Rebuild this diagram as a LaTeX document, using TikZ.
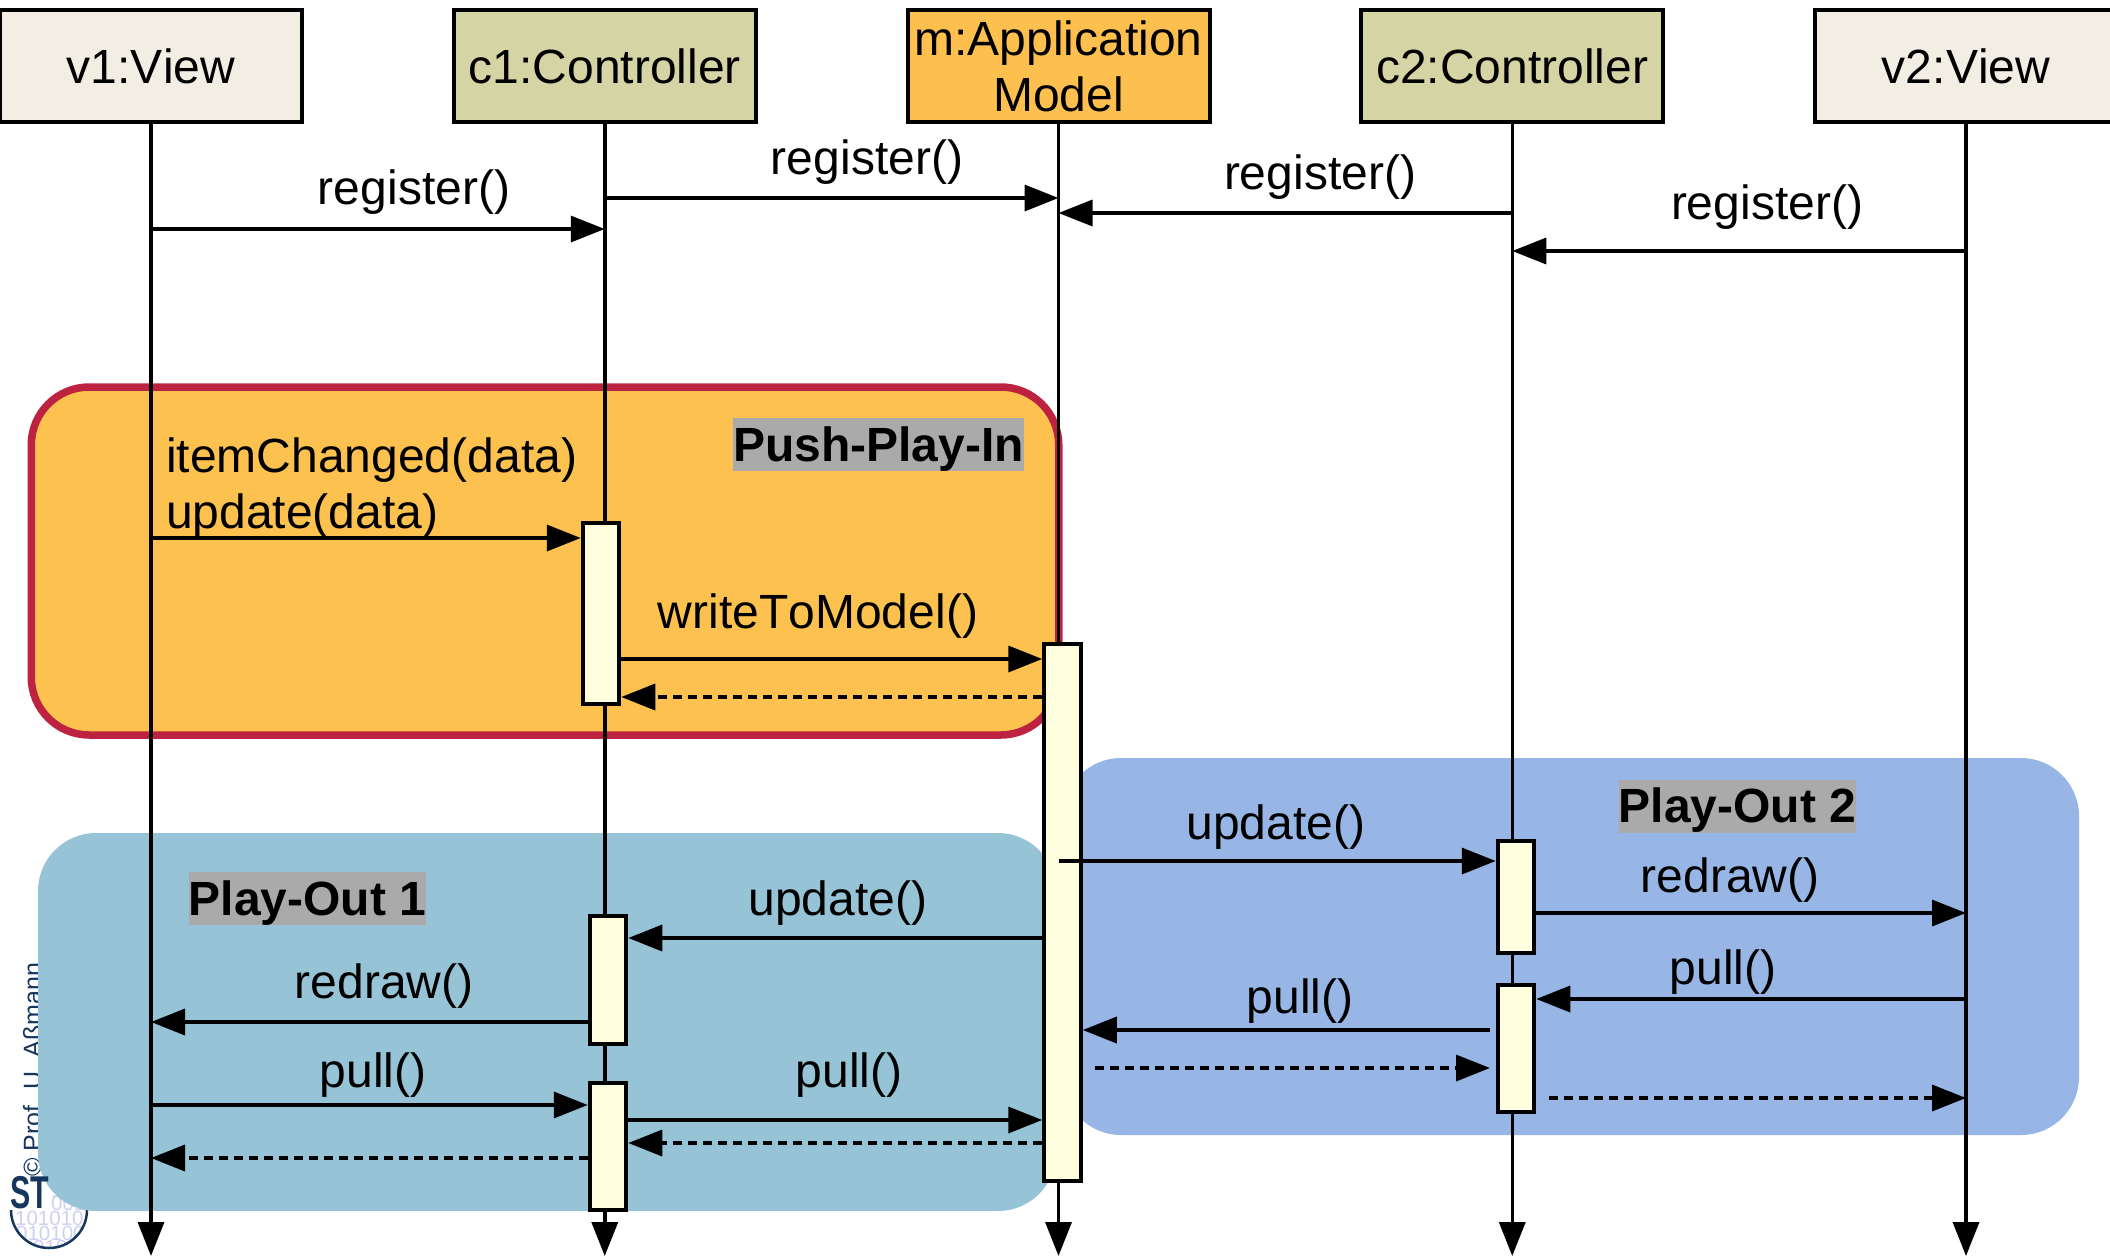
\documentclass[tikz,border=0pt]{standalone}
\usepackage{fontspec}
\setmainfont[Kerning=Off]{Liberation Sans}
\usetikzlibrary{arrows.meta,positioning}
\definecolor{viewfill}{HTML}{F2EEE4}
\definecolor{ctrlfill}{HTML}{D4D4A4}
\definecolor{modelfill}{HTML}{FDC04F}
\definecolor{pushfill}{HTML}{FCC14F}
\definecolor{pushline}{HTML}{BD2340}
\definecolor{outonefill}{HTML}{96C4D6}
\definecolor{outtwofill}{HTML}{97B6E6}
\definecolor{barfill}{HTML}{FFFFE0}
\definecolor{tagfill}{HTML}{AAAAAA}
\definecolor{logoblue}{HTML}{17365D}
\definecolor{logobits}{HTML}{CFCFF2}
\tikzset{
     head/.style      = {draw=black, line width=4pt, minimum width=302pt, minimum height=112pt, inner sep=0pt, align=center, font=\fontsize{48}{56}\selectfont},
     viewhead/.style  = {head, fill=viewfill},
     ctrlhead/.style  = {head, fill=ctrlfill},
     modelhead/.style = {head, fill=modelfill},
     lifeline/.style  = {black, line width=3.5pt, -{Triangle[length=34pt,width=26pt]}},
     bar/.style       = {draw=black, line width=4pt, fill=barfill, minimum width=36.5pt, inner sep=0pt},
     msg/.style       = {black, line width=3.5pt, -{Triangle[length=34pt,width=26pt]}},
     reply/.style     = {msg, dash pattern=on 9pt off 6pt},
     msglabel/.style  = {inner sep=0pt, yshift=-4pt, font=\fontsize{48}{56}\selectfont},
     region/.style    = {rounded corners=58pt, inner sep=0pt},
     regiontag/.style = {fill=tagfill, inner xsep=0pt, inner ysep=0pt, minimum height=53pt, text height=36pt, text depth=3pt, font=\fontsize{48}{56}\selectfont\bfseries},
     logobit/.style   = {logobits, inner sep=0pt, anchor=west, font=\fontsize{20.5}{20.5}\selectfont},
}
\begin{document}
\begin{tikzpicture}[x=1pt,y=-1pt,node distance=453.75pt,on grid]
            \useasboundingbox (0,0) rectangle (2110,1256);

            \node [logoblue, rotate=90, anchor=base west, inner sep=0pt, font=\fontsize{25}{25}\selectfont] (credit) at (41,1177) {© Prof. U. Aßmann};
            \begin{scope}
            \clip (49,1210) circle (38);
            \node [logobit] (bitsA) at (51,1190) {1};
            \node [logobit] (bitsB) at (51,1203) {001};
            \node [logobit] (bitsC) at (15,1218) {101010};
            \node [logobit] (bitsD) at (16,1233) {010100};
            \node [logobit] (bitsE) at (33,1247) {010};
            \end{scope}
            \draw [logoblue, line width=2.5pt] (11,1210) arc (180:0:38);

            \node [region, draw=pushline, line width=7.5pt, fill=pushfill, minimum width=1027.5pt, minimum height=348pt] (pushIn) at (545,561) {};
            \node [region, fill=outonefill, minimum width=1018pt, minimum height=378pt] (playOne) at (547,1022) {};
            \node [region, fill=outtwofill, minimum width=1016pt, minimum height=377pt] (playTwo) at (1571,946.5) {};

            \node [logoblue, inner sep=0pt, font=\fontsize{46}{46}\selectfont\bfseries] (logoST) at (30,1193) {\scalebox{.66}[1]{ST}};

            \node [viewhead]  (v1) at (151,66)      {v1:View};
            \node [ctrlhead]  (c1) [right of=v1]    {c1:Controller};
            \node [modelhead] (m)  [right of=c1]    {m:Application\\Model};
            \node [ctrlhead]  (c2) [right of=m]     {c2:Controller};
            \node [viewhead]  (v2) [right of=c2]    {v2:View};

            \coordinate (lifeEnd) at (0,1256);
            \draw [lifeline] (v1.south) -- (v1 |- lifeEnd);
            \draw [lifeline] (c1.south) -- (c1 |- lifeEnd);
            \draw [lifeline] (m.south)  -- (m |- lifeEnd);
            \draw [lifeline] (c2.south) -- (c2 |- lifeEnd);
            \draw [lifeline] (v2.south) -- (v2 |- lifeEnd);

            \node [bar, minimum height=181pt] (barPush)   at (601,613.5)  {};
            \node [bar, minimum height=537pt] (barModel)  at (1062.5,912.5) {};
            \node [bar, minimum height=128pt] (barOneA)   at (608,980)    {};
            \node [bar, minimum height=127pt] (barOneB)   at (608,1146.5) {};
            \node [bar, minimum height=112pt] (barTwoA)   at (1516,897)   {};
            \node [bar, minimum height=127pt] (barTwoB)   at (1516,1048.5) {};

            \foreach \lvl/\ypos in {regA/229,regB/198,regC/213,regD/251,itemA/538,writeA/659,writeB/697,
                                    upTwo/861,drawTwo/913,pullA/999,pullB/1030,pullC/1068,pullD/1098,
                                    upOne/938,drawOne/1022,pullE/1105,pullF/1120,pullG/1143,pullH/1158}
                \coordinate (\lvl) at (0,\ypos);
            \coordinate (gapTwo) at (1490,0);
            \coordinate (gapOut) at (1095,0);
            \coordinate (gapBack) at (1549,0);

            \draw [msg] (v1 |- regA) -- (c1 |- regA);
            \draw [msg] (c1 |- regB) -- (m |- regB);
            \draw [msg] (c2 |- regC) -- (m |- regC);
            \draw [msg] (v2 |- regD) -- (c2 |- regD);

            \draw [msg]   (v1 |- itemA) -- (barPush.west |- itemA);
            \draw [msg]   (barPush.east |- writeA) -- (barModel.west |- writeA);
            \draw [reply] (barModel.west |- writeB) -- (barPush.east |- writeB);

            \draw [msg]   (m |- upTwo) -- (barTwoA.west |- upTwo);
            \draw [msg]   (barTwoA.east |- drawTwo) -- (v2 |- drawTwo);
            \draw [msg]   (v2 |- pullA) -- (barTwoB.east |- pullA);
            \draw [msg]   (gapTwo |- pullB) -- (barModel.east |- pullB);
            \draw [reply] (gapOut |- pullC) -- (gapTwo |- pullC);
            \draw [reply] (gapBack |- pullD) -- (v2 |- pullD);

            \draw [msg]   (barModel.west |- upOne) -- (barOneA.east |- upOne);
            \draw [msg]   (barOneA.west |- drawOne) -- (v1 |- drawOne);
            \draw [msg]   (v1 |- pullE) -- (barOneB.west |- pullE);
            \draw [msg]   (barOneB.east |- pullF) -- (barModel.west |- pullF);
            \draw [reply] (barModel.west |- pullG) -- (barOneB.east |- pullG);
            \draw [reply] (barOneB.west |- pullH) -- (v1 |- pullH);

            \node [msglabel] (lblRegA) at (414,188)  {register()};
            \node [msglabel] (lblRegB) at (867,158)  {register()};
            \node [msglabel] (lblRegC) at (1320,173) {register()};
            \node [msglabel] (lblRegD) at (1767,203) {register()};

            \node [msglabel, align=left, anchor=west] (lblItem) at (166,484) {itemChanged(data)\\update(data)};
            \node [msglabel] (lblWrite) at (818,612) {writeToModel()};

            \node [msglabel] (lblUpTwo)   at (1276,823) {update()};
            \node [msglabel] (lblDrawTwo) at (1730,876) {redraw()};
            \node [msglabel] (lblPullA)   at (1723,968) {pull()};
            \node [msglabel] (lblPullB)   at (1300,997) {pull()};
            \node [msglabel] (lblUpOne)   at (838,899)  {update()};
            \node [msglabel] (lblDrawOne) at (384,982)  {redraw()};
            \node [msglabel] (lblPullE)   at (373,1071) {pull()};
            \node [msglabel] (lblPullF)   at (849,1071) {pull()};

            \node [regiontag] (tagPush) at (878.5,444.5) {Push-Play-In};
            \node [regiontag] (tagTwo)  at (1737.5,806)  {Play-Out 2};
            \node [regiontag] (tagOne)  at (307.5,898.5) {Play-Out 1};
\end{tikzpicture}
\end{document}
